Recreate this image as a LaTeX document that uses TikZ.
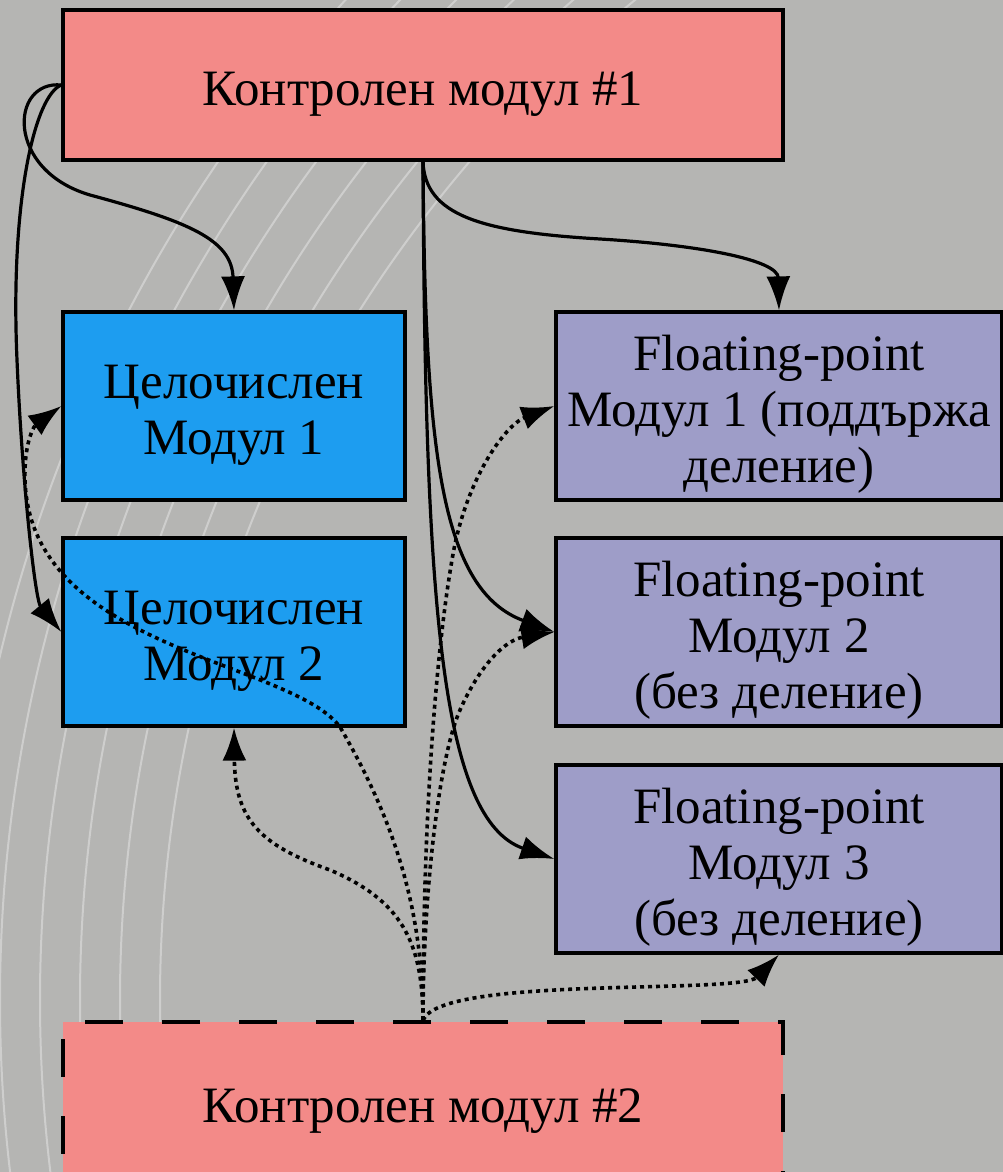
\documentclass[tikz,border=0pt]{standalone}
\usepackage{fontspec}
\setmainfont{Liberation Serif}
\usetikzlibrary{arrows.meta}
\definecolor{ctrlred}{RGB}{243,138,136}
\definecolor{intblue}{RGB}{29,157,240}
\definecolor{fplilac}{RGB}{158,157,200}
\definecolor{bggray}{RGB}{181,181,179}
\newcommand{\topstrut}{\rule{0pt}{52pt}}
\begin{document}
\begin{tikzpicture}[x=1pt,y=-1pt,
		modul/.style={draw=black,line width=3.2pt,align=center,inner sep=0pt,font=\fontsize{51}{56}\selectfont},
		ctrl/.style={modul,fill=ctrlred,minimum width=720pt,minimum height=150pt},
		intm/.style={modul,fill=intblue,minimum width=342pt,minimum height=188pt},
		fpm/.style={modul,fill=fplilac,minimum width=446pt,minimum height=188pt},
		solidarrow/.style={line width=3.2pt,-{Latex[length=34pt,width=24pt]}},
		dotarrow/.style={line width=3.6pt,dash pattern=on 4pt off 4pt,-{Latex[length=33pt,width=24pt]}}]
	\useasboundingbox[fill=bggray] (0,0) rectangle (1003,1172);
	% swirls in the background
	\begin{scope}
		\clip (0,0) rectangle (1003,1172);
		\foreach \r in {1290,1330,1370,1410,1450,1490}
			\draw[white,opacity=.35,line width=2pt] (1450,1000) circle (\r);
	\end{scope}
	\node[ctrl] (k1) at (423,85) {\topstrut Контролен модул \#1};
	\node[intm] (int1) at (234,406) {\topstrut Целочислен\\Модул 1};
	\node[intm] (int2) at (234,632) {\topstrut Целочислен\\Модул 2};
	\node[fpm] (fp1) at (779,406) {\topstrut Floating-point\\Модул 1 (поддържа\\деление)};
	\node[fpm] (fp2) at (779,632) {\topstrut Floating-point\\Модул 2\\(без деление)};
	\node[fpm] (fp3) at (779,859) {\topstrut Floating-point\\Модул 3\\(без деление)};
	\node[ctrl,dash pattern=on 38pt off 39pt,minimum height=160pt] (k2) at (423,1102) {\topstrut Контролен модул \#2};
	% from the first control module
	\draw[solidarrow] (k1.west) .. controls (10,80) and (5,170) .. (90,195) .. controls (190,222) and (232,240) .. (int1.north);
	\draw[solidarrow] (k1.west) .. controls (35,95) and (10,200) .. (17,360) .. controls (22,480) and (35,600) .. (int2.west);
	\draw[solidarrow] (k1.south) .. controls (425,215) and (480,232) .. (600,239) .. controls (700,245) and (778,260) .. (fp1.north);
	\draw[solidarrow] (k1.south) .. controls (425,450) and (440,590) .. (fp2.west);
	\draw[solidarrow] (k1.south) .. controls (425,600) and (440,820) .. (fp3.west);
	% from the second control module
	\draw[dotarrow] (k2.north) .. controls (423,920) and (400,830) .. (340,727) .. controls (290,660) and (30,650) .. (25,480) .. controls (24,440) and (35,425) .. (int1.west);
	\draw[dotarrow] (k2.north) .. controls (423,940) and (400,900) .. (330,870) .. controls (260,845) and (235,820) .. (int2.south);
	\draw[dotarrow] (k2.north) .. controls (423,800) and (438,640) .. (452,560) .. controls (465,480) and (505,425) .. (fp1.west);
	\draw[dotarrow] (k2.north) .. controls (423,900) and (438,760) .. (460,710) .. controls (480,665) and (505,640) .. (fp2.west);
	\draw[dotarrow] (k2.north) .. controls (440,975) and (740,995) .. (fp3.south);
\end{tikzpicture}
\end{document}
